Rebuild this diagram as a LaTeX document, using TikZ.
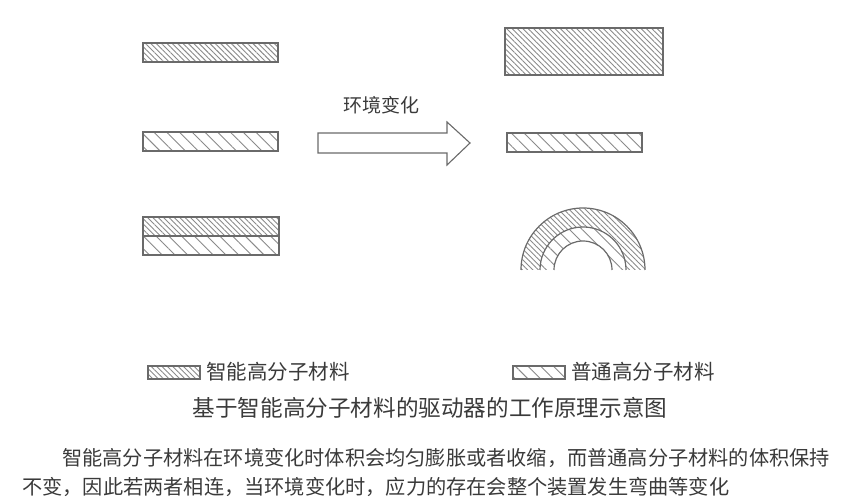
\documentclass[tikz,border=0pt]{standalone}
\usepackage{fontspec}
\newfontfamily\cjk{Noto Sans CJK SC}
\usetikzlibrary{patterns.meta}
\definecolor{linec}{HTML}{6A6A6A}
\definecolor{hatc}{HTML}{8A8A8A}
\definecolor{txtc}{HTML}{3A3A3A}
\tikzset{
  smart/.style={pattern={Lines[angle=-45,distance=3.8pt,line width=0.9pt]},pattern color=hatc},
  plain/.style={pattern={Lines[angle=-45,distance=9pt,line width=0.9pt]},pattern color=hatc},
  edge/.style={draw=linec,line width=1.2pt},
  lbl/.style={inner sep=0pt,text=txtc,font=\cjk\fontsize{19}{20}\selectfont},
  legtxt/.style={inner sep=0pt,text=txtc,anchor=west,font=\cjk\fontsize{20.5}{22}\selectfont},
  ttl/.style={inner sep=0pt,text=txtc,font=\cjk\fontsize{22.6}{24}\selectfont},
  body/.style={inner sep=0pt,text=txtc,anchor=west,font=\cjk\fontsize{20.2}{24}\selectfont}
}
\begin{document}
\begin{tikzpicture}[x=1pt,y=1pt]
\useasboundingbox (0,0) rectangle (845,500);
% top row
\draw[edge,smart] (143,457) rectangle (278,438);
\draw[edge,smart] (505,472) rectangle (663,425);
% middle row
\draw[edge,plain] (143,368) rectangle (278,349);
\draw[edge,plain] (507,367) rectangle (642,348);
% arrow
\draw[draw=linec,line width=1.1pt,fill=white] (318,367) -- (447,367) -- (447,378) -- (470,357) -- (447,335) -- (447,347) -- (318,347) -- cycle;
\node[lbl] (envchange) at (381,395) {环境变化};
% bottom left: bilayer
\draw[edge,smart] (143,283) rectangle (279,264);
\draw[edge,plain] (143,264) rectangle (279,245);
% bottom right: bent bilayer
\coordinate (c) at (583,230);
\fill[smart] (645,230) arc (0:180:62) -- (540,230) arc (180:0:43) -- cycle;
\fill[plain] (626,230) arc (0:180:43) -- (554,230) arc (180:0:29) -- cycle;
\draw[edge] (645,230) arc (0:180:62);
\draw[edge] (626,230) arc (0:180:43);
\draw[edge] (612,230) arc (0:180:29);
% legend
\draw[edge,smart] (148,134) rectangle (200,121);
\node[legtxt] (leg1) at (206,128) {智能高分子材料};
\draw[edge,plain] (513,134) rectangle (565,121);
\node[legtxt] (leg2) at (571,128) {普通高分子材料};
% title
\node[ttl] (title) at (430,92) {基于智能高分子材料的驱动器的工作原理示意图};
% body
\node[body] (line1) at (62,42) {智能高分子材料在环境变化时体积会均匀膨胀或者收缩，而普通高分子材料的体积保持};
\node[body] (line2) at (22,13) {不变，因此若两者相连，当环境变化时，应力的存在会整个装置发生弯曲等变化};
\end{tikzpicture}
\end{document}
